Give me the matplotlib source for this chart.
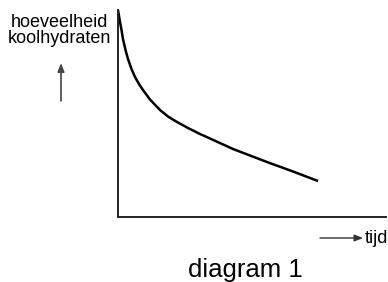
import matplotlib
matplotlib.use("Agg")
import matplotlib.pyplot as plt
from matplotlib.patches import FancyArrowPatch

# data (arbitrary units)
tijd = [0, 2, 3.5, 5, 7.5, 10, 13.5, 17, 21, 25, 32, 42, 50, 59, 70, 82, 92, 115, 132, 149, 175, 200]
koolhydraten = [207, 195, 187, 178, 167, 158, 148, 140, 133, 127, 117.5, 107, 100.5, 95, 89, 83, 78.5, 68, 61.5, 55, 45.5, 36]

W, H = 388, 282
fig = plt.figure(figsize=(W/100, H/100), dpi=100)

def fx(px): return px / W
def fy(py): return 1 - py / H

ax = fig.add_axes([fx(118), fy(217), fx(386) - fx(118), fy(10) - fy(217)])
ax.plot(tijd, koolhydraten, color='black', lw=1.8, solid_capstyle='butt', solid_joinstyle='round')
ax.set_xlim(0, 268)
ax.set_ylim(0, 207)
ax.set_xticks([]); ax.set_yticks([])
for s in ['top', 'right']:
    ax.spines[s].set_visible(False)
for s in ['left', 'bottom']:
    ax.spines[s].set_color('#222222')
    ax.spines[s].set_linewidth(1.4)

fam = ['Liberation Sans', 'DejaVu Sans']
fig.text(fx(59.5), fy(27), 'hoeveelheid', ha='center', va='baseline', fontsize=13, family=fam)
fig.text(fx(59.5), fy(43), 'koolhydraten', ha='center', va='baseline', fontsize=13, family=fam)
fig.text(fx(245.5), fy(277), 'diagram 1', ha='center', va='baseline', fontsize=18.5, family=fam)
fig.text(fx(365), fy(243), 'tijd', ha='left', va='baseline', fontsize=13, family=fam)

fig.add_artist(FancyArrowPatch((fx(61), fy(101)), (fx(61), fy(63)), transform=fig.transFigure,
               arrowstyle='-|>,head_length=5,head_width=2', mutation_scale=1, color='#444444', lw=1.2,
               shrinkA=0, shrinkB=0))
fig.add_artist(FancyArrowPatch((fx(320), fy(238)), (fx(363), fy(238)), transform=fig.transFigure,
               arrowstyle='-|>,head_length=5,head_width=2', mutation_scale=1, color='#333333', lw=1.0,
               shrinkA=0, shrinkB=0))

fig.savefig('out.png', dpi=100)
